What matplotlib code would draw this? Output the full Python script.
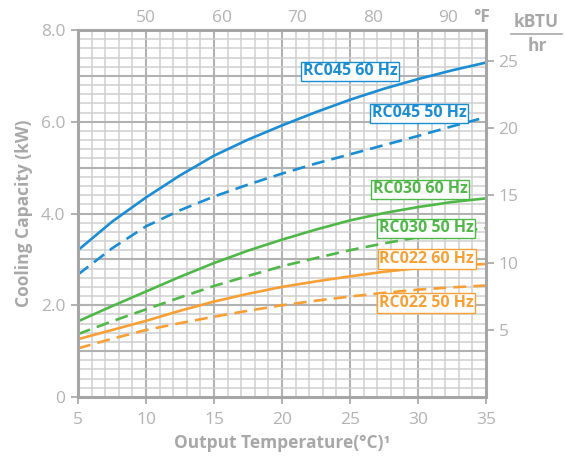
import numpy as np
import matplotlib
matplotlib.use("Agg")
import matplotlib.pyplot as plt
from matplotlib.lines import Line2D

plt.rcParams['font.family'] = ['Open Sans', 'DejaVu Sans']

# Output temperature (°C) and cooling capacity (kW) for each model / supply frequency
temp_c = [5, 7.5, 10, 12.5, 15, 17.5, 20, 22.5, 25, 27.5, 30, 32.5, 35]
rc045_60 = [3.20, 3.82, 4.35, 4.83, 5.26, 5.61, 5.92, 6.21, 6.48, 6.72, 6.93, 7.12, 7.29]
rc045_50 = [2.67, 3.24, 3.72, 4.07, 4.37, 4.63, 4.87, 5.09, 5.29, 5.49, 5.69, 5.90, 6.10]
rc030_60 = [1.65, 1.98, 2.30, 2.62, 2.92, 3.19, 3.43, 3.65, 3.85, 4.01, 4.14, 4.25, 4.33]
rc030_50 = [1.37, 1.65, 1.91, 2.17, 2.42, 2.64, 2.85, 3.03, 3.20, 3.35, 3.48, 3.59, 3.68]
rc022_60 = [1.26, 1.46, 1.66, 1.88, 2.08, 2.25, 2.40, 2.52, 2.63, 2.73, 2.81, 2.86, 2.90]
rc022_50 = [1.06, 1.27, 1.46, 1.61, 1.75, 1.88, 2.00, 2.10, 2.19, 2.27, 2.34, 2.39, 2.43]

series_names = ["RC045 60 Hz", "RC045 50 Hz", "RC030 60 Hz",
                "RC030 50 Hz", "RC022 60 Hz", "RC022 50 Hz"]
series_values = [rc045_60, rc045_50, rc030_60, rc030_50, rc022_60, rc022_50]

x_ticks = [5, 10, 15, 20, 25, 30, 35]
y_ticks = [0, 2, 4, 6, 8]
y_tick_labels = ["0", "2.0", "4.0", "6.0", "8.0"]
f_ticks = [50, 60, 70, 80, 90]
btu_ticks = [5, 10, 15, 20, 25]

BLUE = "#1b8dd4"
GREEN = "#50b848"
ORANGE = "#f8a035"
colors = [BLUE, BLUE, GREEN, GREEN, ORANGE, ORANGE]
styles = ["solid", "dashed"] * 3

# label anchor (temperature, kW) for each curve tag
label_pos = [(25.0, 7.10), (30.1, 6.18), (30.15, 4.53),
             (30.6, 3.68), (30.65, 3.01), (30.6, 2.05)]

TICK_GRAY = "#b3b3b3"
LABEL_GRAY = "#a8a8a8"
SPINE_GRAY = "#a6a6a6"

fig = plt.figure(figsize=(5.65, 4.59), dpi=100)
ax = fig.add_axes([78 / 565, 1 - 397 / 459, (486 - 78) / 565, (397 - 30) / 459])
ax.set_xlim(5, 35)
ax.set_ylim(0, 8)

# grid: fine lines every 1 °C / 0.2 kW, heavier every 5 °C / 1 kW
for xv in np.arange(6, 35, 1):
    major = (xv % 5 == 0)
    ax.axvline(xv, color="#b2b2b2" if major else "#d0d0d0",
               lw=1.5 if major else 1.1, zorder=0)
for yv in np.arange(0.2, 8.0, 0.2):
    major = abs(yv - round(yv)) < 1e-6
    ax.axhline(yv, color="#b2b2b2" if major else "#d0d0d0",
               lw=1.5 if major else 1.1, zorder=0)

for vals, col, ls in zip(series_values, colors, styles):
    line, = ax.plot(temp_c, vals, color=col, lw=1.9, zorder=3,
                    solid_capstyle="butt", solid_joinstyle="round")
    if ls == "dashed":
        line.set_dashes([4.9, 2.7])

for name, (tx, ty), col in zip(series_names, label_pos, colors):
    ax.text(tx, ty, name, color=col, fontsize=11.5, fontweight="bold",
            ha="center", va="center", zorder=5,
            bbox=dict(boxstyle="square,pad=0.1", fc="white", ec=col, lw=1.0))

for sp in ax.spines.values():
    sp.set_color(SPINE_GRAY)
    sp.set_linewidth(2.2)
    sp.set_zorder(4)

ax.set_xticks(x_ticks)
ax.set_yticks(y_ticks)
ax.set_yticklabels(y_tick_labels)
ax.tick_params(axis="both", colors=SPINE_GRAY, labelcolor=TICK_GRAY,
               labelsize=12.5, length=5, width=1.2, pad=4)
ax.tick_params(axis="x", pad=6)

ax.set_xlabel("Output Temperature(°C)¹", color=LABEL_GRAY, fontsize=12.5,
              fontweight="bold", labelpad=4)
ax.set_ylabel("Cooling Capacity (kW)", color=LABEL_GRAY, fontsize=12.5,
              fontweight="bold", labelpad=6)

# Fahrenheit scale along the top
top = ax.secondary_xaxis("top", functions=(lambda c: c * 9 / 5 + 32,
                                           lambda f: (f - 32) * 5 / 9))
top.set_xticks(f_ticks)
top.tick_params(length=0, labelcolor=TICK_GRAY, labelsize=12.5, pad=3)
top.spines["top"].set_visible(False)
ax.annotate("°F", xy=(34.7, 1.0), xycoords=ax.get_xaxis_transform(),
            xytext=(0, 3), textcoords="offset points",
            ha="center", va="bottom", color=LABEL_GRAY, fontsize=12.5,
            fontweight="bold", annotation_clip=False)

# kBTU/hr scale on the right
right = ax.secondary_yaxis("right", functions=(lambda k: k * 3.412,
                                               lambda b: b / 3.412))
right.set_yticks(btu_ticks)
right.tick_params(length=6, width=1.2, colors=SPINE_GRAY, labelcolor=TICK_GRAY,
                  labelsize=12.5, pad=3)
right.spines["right"].set_visible(False)

fig.text(536 / 565, 1 - 22 / 459, "kBTU", ha="center", va="center",
         color=LABEL_GRAY, fontsize=12.5, fontweight="bold")
fig.text(537 / 565, 1 - 46 / 459, "hr", ha="center", va="center",
         color=LABEL_GRAY, fontsize=12.5, fontweight="bold")
fig.add_artist(Line2D([511 / 565, 562 / 565], [1 - 34 / 459, 1 - 34 / 459],
                      color=LABEL_GRAY, lw=1.2, transform=fig.transFigure))

fig.savefig("out.png", dpi=100, facecolor="white")
